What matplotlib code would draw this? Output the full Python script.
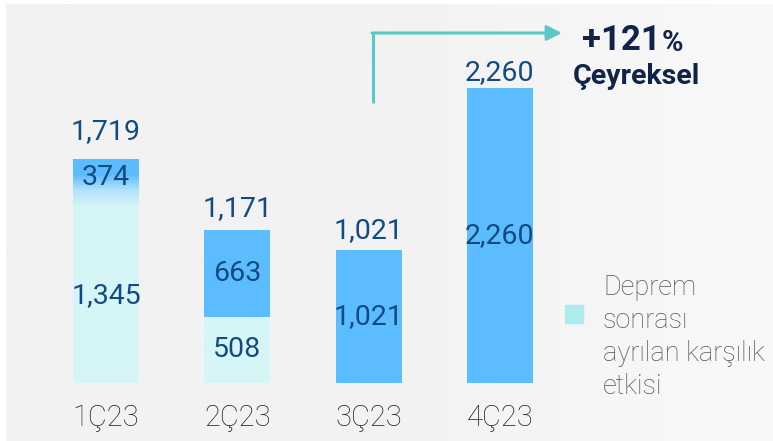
import matplotlib
matplotlib.use("Agg")
import matplotlib.pyplot as plt
import numpy as np
from matplotlib.colors import LinearSegmentedColormap

categories = ["1Ç23", "2Ç23", "3Ç23", "4Ç23"]
deprem = [1345, 508, 0, 0]          # light cyan segment (post-quake provision impact)
main = [374, 663, 1021, 2260]       # blue segment
totals = [1719, 1171, 1021, 2260]
growth_label = "+121"
growth_sub = "Çeyreksel"
legend_label = "Deprem\nsonrası\nayrılan karşılık\netkisi"

BLUE = "#5bbcff"
CYAN = "#d5f5f6"
LEG = "#aeebec"
NUM = "#124b82"
NAVY = "#0f2446"
TEAL = "#5cc7c3"

plt.rcParams['font.family'] = ['Roboto', 'DejaVu Sans']

W, H = 773, 441
fig = plt.figure(figsize=(W / 100, H / 100), dpi=100)

# background panel with slight horizontal gradient
bg = fig.add_axes([0, 0, 1, 1])
bg.set_axis_off()
grad = np.linspace(0, 1, 256).reshape(1, -1)
bgcmap = LinearSegmentedColormap.from_list("bg", ["#f2f2f2", "#f2f2f2", "#f9f9f9"])
bg.imshow(grad, extent=[6, W, 0, H - 4], aspect="auto", cmap=bgcmap)
bg.set_xlim(0, W)
bg.set_ylim(0, H)

ax = fig.add_axes([0, 0, 1, 1])
ax.set_axis_off()
ax.patch.set_alpha(0)
scale = 0.1305  # px per unit
base_px = 383
x0, step = 106, 131.3
ax.set_xlim(-x0 / step, (W - x0) / step)
ax.set_ylim(-(H - base_px) / scale, base_px / scale)

def py(p):  # pixel-from-top -> data y
    return (base_px - p) / scale

def px(p):  # pixel-from-left -> data x
    return (p - x0) / step

x = np.arange(len(categories))
bw = 66 / step
ax.bar(x, deprem, width=bw, color=CYAN, zorder=2)
bars = ax.bar(x, main, width=bw, bottom=deprem, color=BLUE, zorder=2)

# gradient top segment for the first bar
b0 = bars[0]
b0.set_facecolor("none")
gcmap = LinearSegmentedColormap.from_list("g", [CYAN, "#b5e3fb", BLUE, BLUE])
vgrad = np.linspace(0, 1, 256).reshape(-1, 1)
im = ax.imshow(vgrad, extent=[x[0] - bw / 2, x[0] + bw / 2, deprem[0], deprem[0] + main[0]],
               origin="lower", aspect="auto", cmap=gcmap, zorder=2)
im.set_clip_path(b0)

fmt = lambda v: f"{v:,}"
total_gap_px = [27, 22, 19, 16]
FS = 20.5
for i in x:
    ax.text(i, totals[i] + total_gap_px[i] / scale, fmt(totals[i]), ha="center", va="center",
            fontsize=FS, color=NUM, zorder=3)
    if deprem[i] > 0:
        ax.text(i, deprem[i] / 2, fmt(deprem[i]), ha="center", va="center",
                fontsize=FS, color=NUM, zorder=3)
        ax.text(i, deprem[i] + main[i] / 2 + (45 if i == 0 else 0), fmt(main[i]),
                ha="center", va="center", fontsize=FS, color=NUM, zorder=3)
    else:
        ax.text(i, main[i] / 2, fmt(main[i]), ha="center", va="center",
                fontsize=FS, color=NUM, zorder=3)
    ax.text(i, py(418), categories[i], ha="center", va="center", fontsize=21,
            color="#222222", fontweight="light", zorder=3)

# growth arrow
xa = px(373)
ax.plot([xa, xa], [py(103), py(33)], color=TEAL, lw=2.2,
        solid_capstyle="butt", zorder=3)
ax.annotate("", xy=(px(562), py(33)), xytext=(xa - 0.008, py(33)),
            arrowprops=dict(arrowstyle="-|>,head_length=0.9,head_width=0.45", color=TEAL, lw=2.2,
                            shrinkA=0, shrinkB=0), zorder=3)

ax.text(px(582), py(40), growth_label, ha="left", va="center", fontsize=25,
        fontweight="bold", color=NAVY, zorder=3)
ax.text(px(662), py(43), "%", ha="left", va="center", fontsize=21,
        fontweight="bold", color=NAVY, zorder=3)
ax.text(px(573), py(76), growth_sub, ha="left", va="center", fontsize=20.5,
        fontweight="bold", color=NAVY, zorder=3)

# legend
ax.add_patch(plt.Rectangle((px(565), py(323)), 18 / step, 18 / scale,
                           color=LEG, zorder=3))
ax.text(px(603), py(337), legend_label, ha="left", va="center",
        fontsize=19.5, color="#555555", fontweight="light", linespacing=1.3, zorder=3)

fig.savefig("out.png", dpi=100)
